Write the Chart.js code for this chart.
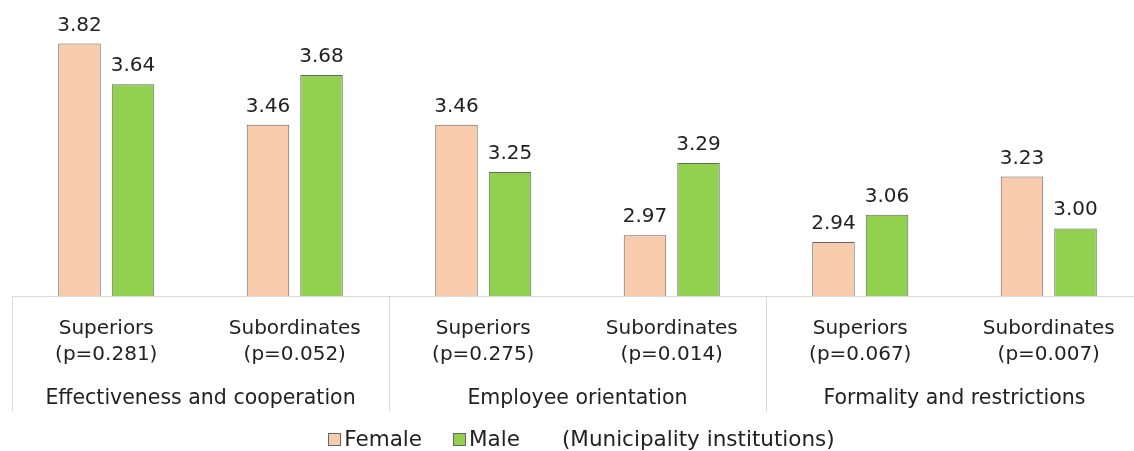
<!DOCTYPE html>
<html>
<head>
<meta charset="utf-8">
<script src="https://cdn.jsdelivr.net/npm/chart.js@4.4.1/dist/chart.umd.min.js"></script>
<style>
  html, body { margin: 0; padding: 0; background: #fff; overflow: hidden; }
  #wrap { width: 1150px; height: 451px; }
</style>
</head>
<body>
<div id="wrap"><canvas id="c" width="1150" height="451"></canvas></div>
<script>
// Category labels (role + p-value) and their grouping dimensions
const roles = ['Superiors', 'Subordinates', 'Superiors', 'Subordinates', 'Superiors', 'Subordinates'];
const pValues = ['(p=0.281)', '(p=0.052)', '(p=0.275)', '(p=0.014)', '(p=0.067)', '(p=0.007)'];
const groups = ['Effectiveness and cooperation', 'Employee orientation', 'Formality and restrictions'];

// Mean scores by gender
const female = [3.82, 3.46, 3.46, 2.97, 2.94, 3.23];
const male = [3.64, 3.68, 3.25, 3.29, 3.06, 3.00];

const seriesNames = ['Female', 'Male'];
const note = '(Municipality institutions)';

const FONT = 'DejaVu Sans';
const TEXT = '#222222';
const femaleColor = '#F8CBAD';
const maleColor = '#92D050';
const edgeColor = '#666666';
const lineColor = '#d9d9d9';

const labels = roles.map((r, i) => [r, pValues[i]]);

// Value labels above each bar
const valueLabels = {
  id: 'valueLabels',
  afterDatasetsDraw(chart) {
    const ctx = chart.ctx;
    ctx.save();
    ctx.font = '20px "' + FONT + '"';
    ctx.fillStyle = TEXT;
    ctx.textAlign = 'center';
    ctx.textBaseline = 'alphabetic';
    chart.data.datasets.forEach((ds, di) => {
      chart.getDatasetMeta(di).data.forEach((bar, i) => {
        ctx.fillText(ds.data[i].toFixed(2), bar.x, bar.y - 13);
      });
    });
    ctx.restore();
  }
};

// Group separators and group titles under the category labels
const groupAxis = {
  id: 'groupAxis',
  afterDraw(chart) {
    const ctx = chart.ctx;
    const x = chart.scales.x;
    const area = chart.chartArea;
    const per = roles.length / groups.length;
    const bottom = 411;
    ctx.save();
    ctx.strokeStyle = lineColor;
    ctx.lineWidth = 1;
    for (let g = 0; g < groups.length; g++) {
      const first = g * per;
      const last = first + per - 1;
      const left = g === 0 ? area.left : (x.getPixelForValue(first - 1) + x.getPixelForValue(first)) / 2;
      const px = Math.round(left) + 0.5;
      ctx.beginPath();
      ctx.moveTo(px, area.bottom);
      ctx.lineTo(px, bottom);
      ctx.stroke();
      const cx = (x.getPixelForValue(first) + x.getPixelForValue(last)) / 2;
      ctx.font = '20.5px "' + FONT + '"';
      ctx.fillStyle = TEXT;
      ctx.textAlign = 'center';
      ctx.textBaseline = 'alphabetic';
      ctx.fillText(groups[g], cx, 404);
    }
    ctx.restore();
  }
};

// Legend row with the sample note
const bottomLegend = {
  id: 'bottomLegend',
  afterDraw(chart) {
    const ctx = chart.ctx;
    const area = chart.chartArea;
    const box = 13, gapBox = 3, gapItem = 31, gapNote = 42;
    const baseline = 446;
    ctx.save();
    ctx.font = '21.5px "' + FONT + '"';
    const items = chart.data.datasets.map(ds => ({ text: ds.label, color: ds.backgroundColor }));
    let total = 0;
    items.forEach((it, i) => {
      total += box + gapBox + ctx.measureText(it.text).width;
      if (i < items.length - 1) total += gapItem;
    });
    total += gapNote + ctx.measureText(note).width;
    let cx = (area.left + area.right) / 2 + 4 - total / 2;
    ctx.textBaseline = 'alphabetic';
    ctx.textAlign = 'left';
    items.forEach((it, i) => {
      ctx.fillStyle = it.color;
      ctx.fillRect(cx, baseline - 13, box, box);
      ctx.strokeStyle = edgeColor;
      ctx.lineWidth = 1;
      ctx.strokeRect(Math.round(cx) + 0.5, baseline - 13 + 0.5, box - 1, box - 1);
      cx += box + gapBox;
      ctx.fillStyle = TEXT;
      ctx.fillText(it.text, cx, baseline);
      cx += ctx.measureText(it.text).width;
      if (i < items.length - 1) cx += gapItem;
    });
    cx += gapNote;
    ctx.fillStyle = TEXT;
    ctx.fillText(note, cx, baseline);
    ctx.restore();
  }
};

new Chart(document.getElementById('c'), {
  type: 'bar',
  data: {
    labels: labels,
    datasets: [
      { label: seriesNames[0], data: female, backgroundColor: femaleColor, borderColor: edgeColor, borderWidth: 1 },
      { label: seriesNames[1], data: male, backgroundColor: maleColor, borderColor: edgeColor, borderWidth: 1 }
    ]
  },
  options: {
    responsive: false,
    animation: false,
    devicePixelRatio: 1,
    categoryPercentage: 0.568,
    barPercentage: 0.794,
    layout: { padding: { left: 12, right: 7, top: 3, bottom: 71 } },
    plugins: {
      legend: { display: false },
      tooltip: { enabled: false },
      title: { display: false }
    },
    scales: {
      x: {
        grid: { display: false },
        border: { display: true, color: lineColor, width: 1 },
        ticks: {
          color: TEXT,
          font: { family: FONT, size: 20, lineHeight: 1.3 },
          padding: 12,
          maxRotation: 0,
          autoSkip: false
        }
      },
      y: {
        display: false,
        min: 2.7,
        max: 4.0
      }
    }
  },
  plugins: [valueLabels, groupAxis, bottomLegend]
});
</script>
</body>
</html>
